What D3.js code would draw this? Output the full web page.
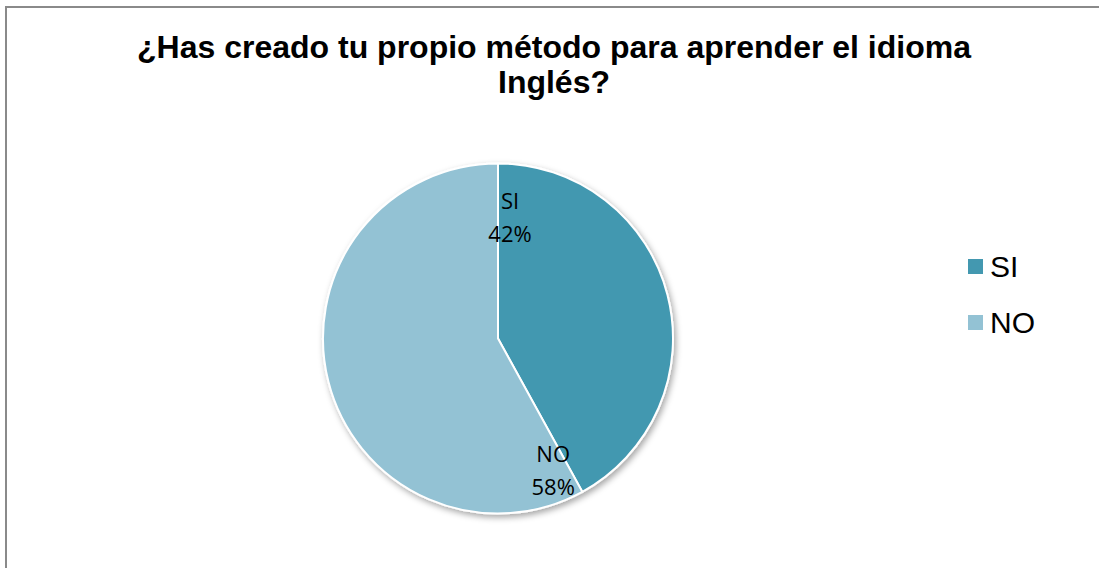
<!DOCTYPE html>
<html lang='es'>
	<head>
		<meta charset='utf-8'>
		<title>Método propio</title>
		<script type='text/javascript' src='https://d3js.org/d3.v7.min.js'></script>
		<style type='text/css'>
			body { margin: 0; background: white; }
			svg { display: block; }
		</style>
	</head>
	<body>
		<script type='text/javascript'>
			// datos
			var categories = ['SI', 'NO'];
			var values = [42, 58];
			var colors = ['#4398b0', '#93c2d4'];
			var titleLines = ['¿Has creado tu propio método para aprender el idioma', 'Inglés?'];

			var w = 1099;
			var h = 568;
			var cx = 498, cy = 338.5, r = 175;

			var svg = d3.select('body')
				.append('svg')
				.attr('width', w)
				.attr('height', h);

			// marco del gráfico
			svg.append('rect')
				.attr('x', 6)
				.attr('y', 7)
				.attr('width', w + 10)
				.attr('height', h + 10)
				.attr('fill', 'white')
				.attr('stroke', '#8a8a8a')
				.attr('stroke-width', 2);

			// título
			svg.append('g')
				.selectAll('text')
				.data(titleLines)
				.enter()
				.append('text')
				.attr('x', 554)
				.attr('y', function(d, i) { return 58 + i * 35; })
				.attr('text-anchor', 'middle')
				.style('font-family', '"Liberation Sans", Arial, sans-serif')
				.style('font-weight', 'bold')
				.style('font-size', '32px')
				.text(function(d) { return d; });

			var defs = svg.append('defs');
			var filter = defs.append('filter')
				.attr('id', 'shadow')
				.attr('x', '-20%').attr('y', '-20%')
				.attr('width', '140%').attr('height', '140%');
			filter.append('feDropShadow')
				.attr('dx', 2).attr('dy', 3)
				.attr('stdDeviation', 3)
				.attr('flood-color', '#000')
				.attr('flood-opacity', 0.35);

			var pie = d3.pie().sort(null).value(function(d) { return d; });
			var arc = d3.arc().innerRadius(0).outerRadius(r);
			var arcs = pie(values);

			var g = svg.append('g')
				.attr('transform', 'translate(' + cx + ',' + cy + ')');

			g.append('g')
				.attr('filter', 'url(#shadow)')
				.selectAll('path')
				.data(arcs)
				.enter()
				.append('path')
				.attr('d', arc)
				.attr('fill', function(d, i) { return colors[i]; })
				.attr('stroke', 'white')
				.attr('stroke-width', 2);

			// etiquetas dentro del pastel, junto al inicio de cada sector
			var labelOffset = [[0.106, 0.65], [0.125, 0.855]];
			var labels = g.selectAll('.lbl')
				.data(arcs)
				.enter()
				.append('text')
				.attr('class', 'lbl')
				.attr('text-anchor', 'middle')
				.style('font-family', '"Open Sans", sans-serif')
				.style('font-size', '22px')
				.attr('fill', '#000')
				.attr('transform', function(d, i) {
					var a = d.startAngle + labelOffset[i][0];
					var rr = r * labelOffset[i][1];
					return 'translate(' + (Math.sin(a) * rr) + ',' + (-Math.cos(a) * rr) + ')';
				});
			labels.append('tspan')
				.attr('x', 0)
				.attr('dy', -16)
				.text(function(d, i) { return categories[i]; });
			labels.append('tspan')
				.attr('x', 0)
				.attr('dy', 33)
				.text(function(d, i) { return values[i] + '%'; });

			// leyenda
			var legend = svg.append('g')
				.selectAll('g')
				.data(categories)
				.enter()
				.append('g')
				.attr('transform', function(d, i) { return 'translate(968,' + (259 + i * 56) + ')'; });
			legend.append('rect')
				.attr('width', 15)
				.attr('height', 15)
				.attr('fill', function(d, i) { return colors[i]; });
			legend.append('text')
				.attr('x', 22)
				.attr('y', 18)
				.style('font-family', '"Liberation Sans", Arial, sans-serif')
				.style('font-size', '30px')
				.text(function(d) { return d; });
		</script>
	</body>
</html>
